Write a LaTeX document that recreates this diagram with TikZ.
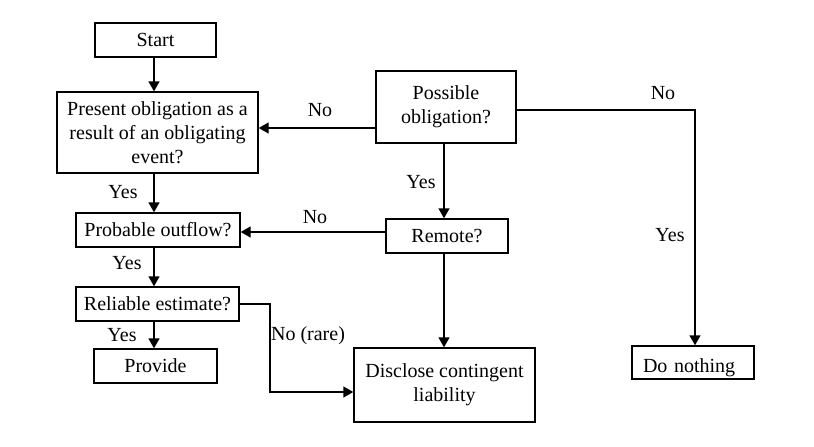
\documentclass[tikz,border=0pt]{standalone}
\usepackage{fontspec}
\setmainfont{Liberation Serif}
\usetikzlibrary{arrows.meta}
\begin{document}
\begin{tikzpicture}[x=1pt,y=-1pt,
  box/.style={draw, line width=1.4pt, inner sep=0pt, align=center,
    font=\fontsize{20}{24}\selectfont},
  lab/.style={inner sep=0pt, font=\fontsize{20}{24}\selectfont},
  ln/.style={line width=1.4pt},
  arr/.style={line width=1.4pt, -{Triangle[length=10pt,width=11pt]}}]
\useasboundingbox[fill=white] (0,0) rectangle (814,447);
% boxes
\node[box, minimum width=121pt, minimum height=34pt] (start) at (155.5,40) {Start};
\node[box, minimum width=201pt, minimum height=81pt] (present) at (157.5,132.5)
  {Present obligation as a\\result of an obligating\\event?};
\node[box, minimum width=140pt, minimum height=72pt, line width=1.8pt] (possible) at (446,107)
  {Possible\\obligation?};
\node[box, minimum width=122pt, minimum height=34pt] (remote) at (447,236) {Remote?};
\node[box, minimum width=164pt, minimum height=34pt] (probable) at (158,230) {Probable outflow?};
\node[box, minimum width=163pt, minimum height=34pt] (reliable) at (157.5,304) {Reliable estimate?};
\node[box, minimum width=123pt, minimum height=34pt] (provide) at (155.5,366) {Provide};
\node[box, minimum width=181pt, minimum height=74pt] (disclose) at (444.5,385)
  {Disclose contingent\\liability};
\node[box, text width=100pt, inner xsep=11pt, minimum height=33pt, align=left,
  text height=20pt, text depth=1pt] (nothing) at (693,362.5) {Do nothing};
% helper coordinates
\coordinate (spine) at (154,0);
\coordinate (mid) at (444,0);
\coordinate (right) at (695,0);
\coordinate (ynoA) at (0,128);
\coordinate (ynoB) at (0,110);
\coordinate (ynoC) at (0,232);
\coordinate (yrel) at (0,304);
\coordinate (jog) at (270,392);
% connectors
\draw[arr] (start.south -| spine) -- (present.north -| spine);
\draw[arr] (present.south -| spine) -- (probable.north -| spine);
\draw[arr] (probable.south -| spine) -- (reliable.north -| spine);
\draw[arr] (reliable.south -| spine) -- (provide.north -| spine);
\draw[arr] (possible.west |- ynoA) -- (present.east |- ynoA);
\draw[arr] (possible.south -| mid) -- (remote.north -| mid);
\draw[arr] (remote.west |- ynoC) -- (probable.east |- ynoC);
\draw[arr] (remote.south -| mid) -- (disclose.north -| mid);
\draw[arr] (possible.east |- ynoB) -| (nothing.north -| right);
\draw[arr] (reliable.east |- yrel) -| (jog) -- (disclose.west |- jog);
% labels
\node[lab] (l1) at (320,110) {No};
\node[lab] (l2) at (421,182) {Yes};
\node[lab] (l3) at (663,93) {No};
\node[lab] (l4) at (670,235) {Yes};
\node[lab] (l5) at (315,217) {No};
\node[lab] (l6) at (123,192) {Yes};
\node[lab] (l7) at (127,263) {Yes};
\node[lab] (l8) at (122,335) {Yes};
\node[lab] (l9) at (308,336) {No (rare)};
\end{tikzpicture}
\end{document}
